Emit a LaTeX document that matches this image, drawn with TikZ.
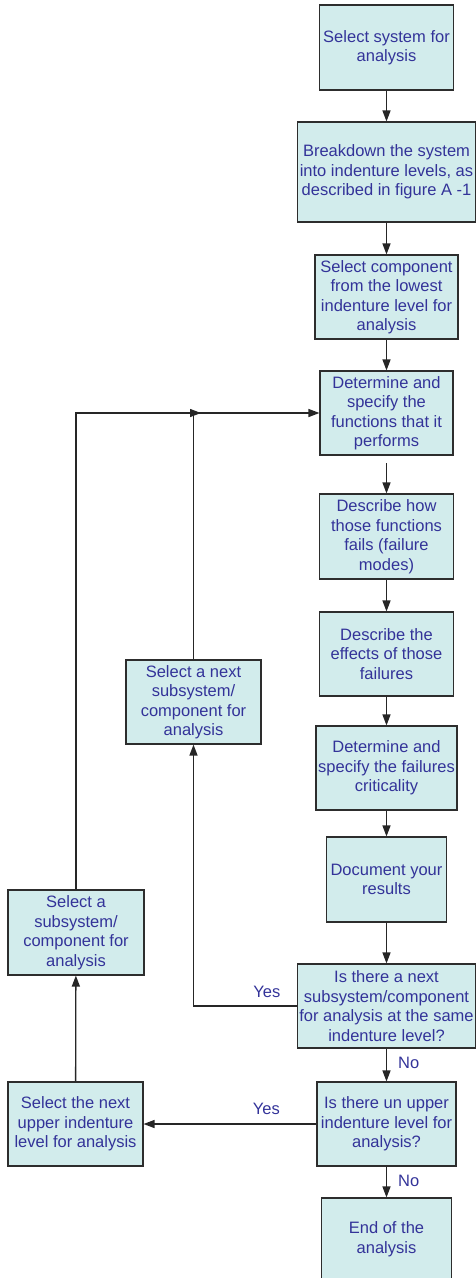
\documentclass[tikz,border=0pt]{standalone}
\usepackage{fontspec}
\setmainfont{Liberation Sans}
\usetikzlibrary{arrows.meta}
\definecolor{boxfill}{RGB}{210,236,236}
\definecolor{boxtext}{RGB}{51,51,153}
\definecolor{boxline}{RGB}{45,45,45}
\begin{document}
\begin{tikzpicture}[x=1pt,y=-1pt,
  stepbox/.style={draw=boxline, line width=1.1pt, fill=boxfill, text=boxtext,
    align=center, inner sep=0pt, font=\fontsize{16.5}{19.5}\selectfont},
  flow/.style={line width=1.3pt, draw=black!85,
    -{Triangle[length=11pt,width=8pt]}},
  lbl/.style={text=boxtext, font=\fontsize{16.5}{19.5}\selectfont, inner sep=0pt}]
\clip (0,0) rectangle (476,1278);

% main column
\node[stepbox, minimum width=134pt, minimum height=85pt] (b1) at (386.5,47.5)
  {Select system for\\analysis};
\node[stepbox, minimum width=178pt, minimum height=100pt] (b2) at (386.5,172)
  {Breakdown the system\\into indenture levels, as\\described in figure A -1};
\node[stepbox, minimum width=143pt, minimum height=84pt] (b3) at (386.5,297)
  {Select component\\from the lowest\\indenture level for\\analysis};
\node[stepbox, minimum width=133pt, minimum height=84pt] (b4) at (386.5,413)
  {Determine and\\specify the\\functions that it\\performs};
\node[stepbox, minimum width=134pt, minimum height=85pt] (b5) at (386.5,536.5)
  {Describe how\\those functions\\fails (failure\\modes)};
\node[stepbox, minimum width=134pt, minimum height=84pt] (b6) at (386.5,654)
  {Describe the\\effects of those\\failures};
\node[stepbox, minimum width=141pt, minimum height=84pt] (b7) at (386.5,768)
  {Determine and\\specify the failures\\criticality};
\node[stepbox, minimum width=120pt, minimum height=85pt] (b8) at (386.5,879.5)
  {Document your\\results};
\node[stepbox, minimum width=178pt, minimum height=84pt] (b9) at (386.5,1006)
  {Is there a next\\subsystem/component\\for analysis at the same\\indenture level?};
\node[stepbox, minimum width=139pt, minimum height=84pt] (b10) at (386.5,1124)
  {Is there un upper\\indenture level for\\analysis?};
% last box runs past the bottom edge of the page
\node[stepbox, minimum width=130pt, minimum height=100pt] (b11) at (386.5,1248) {};
\node[lbl, align=center] (b11t) at (386.5,1239) {End of the\\analysis};

% side boxes
\node[stepbox, minimum width=135pt, minimum height=84pt] (b12) at (75.5,1124)
  {Select the next\\upper indenture\\level for analysis};
\node[stepbox, minimum width=136pt, minimum height=85pt] (b13) at (76,932.5)
  {Select a\\subsystem/\\component for\\analysis};
\node[stepbox, minimum width=135pt, minimum height=84pt] (b14) at (193.5,702)
  {Select a next\\subsystem/\\component for\\analysis};

% connectors
\coordinate (s45) at (386.5,463);
\coordinate (j1) at (201,413);
\coordinate (c9) at (193.5,1006);
\draw[flow] (b1) -- (b2);
\draw[flow] (b2) -- (b3);
\draw[flow] (b3) -- (b4);
\draw[flow] (s45) -- (b5);
\draw[flow] (b5) -- (b6);
\draw[flow] (b6) -- (b7);
\draw[flow] (b7) -- (b8);
\draw[flow] (b8) -- (b9);
\draw[flow] (b9) -- node[lbl, pos=0.45, right=11pt] {No} (b10);
\draw[flow] (b10) -- node[lbl, pos=0.45, right=11pt] {No} (b11);
\draw[flow] (b10) -- node[lbl, pos=0.29, above=9pt] {Yes} (b12);
\draw[flow] (b9.west) -- node[lbl, pos=0.29, above=8pt] {Yes} (c9) -- (b14);
\draw[flow] (b12) -- (b13);
\draw[flow] (b13.north) |- (j1);
\draw[flow] (b14.north) |- (b4.west);
\end{tikzpicture}
\end{document}
